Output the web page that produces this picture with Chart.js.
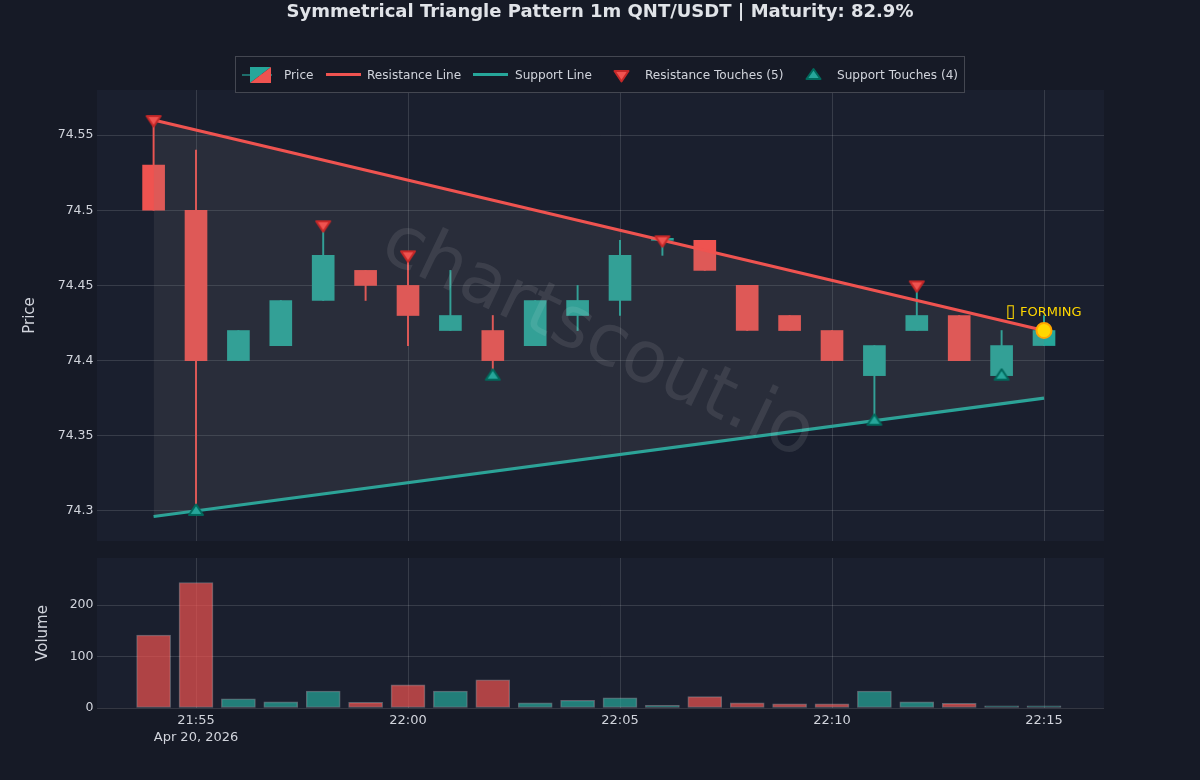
<!DOCTYPE html>
<html>
<head>
<meta charset="utf-8">
<title>Symmetrical Triangle Pattern</title>
<script src="https://cdn.jsdelivr.net/npm/chart.js@4"></script>
<style>
    html, body { margin: 0; background: #161a26; width: 1200px; height: 780px; overflow: hidden; }
    body { position: relative; font-family: 'DejaVu Sans', sans-serif; color: #d1d4dc; }
    canvas { position: absolute; left: 0; }
    #chart-price { top: 0; }
    #chart-volume { top: 540px; }
    #title { position: absolute; left: 0; width: 1200px; top: 0; text-align: center; font-size: 18px; line-height: 21px; font-weight: bold; color: #e0e3e8; }
    #legend { position: absolute; left: 235px; top: 56px; width: 728px; height: 35px; border: 1px solid rgba(255,255,255,0.2); background: #161a26; }
    #legend span { position: absolute; top: 0; line-height: 37px; font-size: 12.1px; white-space: nowrap; }
    #legend svg { position: absolute; top: 0; left: 0; }
</style>
</head>
<body>
<canvas id="chart-price"></canvas>
<canvas id="chart-volume"></canvas>
<div id="title">Symmetrical Triangle Pattern 1m QNT/USDT | Maturity: 82.9%</div>
<div id="legend">
    <svg width="728" height="35">
        <line x1="6" x2="36" y1="18" y2="18" stroke="#26a69a" stroke-width="1.2"/>
        <polygon points="14,10 35,10 14,26" fill="#26a69a"/>
        <polygon points="35,10 35,26 14,26" fill="#ef5350"/>
        <line x1="90" x2="125" y1="17.5" y2="17.5" stroke="#ef5350" stroke-width="3"/>
        <line x1="237" x2="272" y1="17.5" y2="17.5" stroke="#26a69a" stroke-width="3"/>
        <polygon points="378.5,14 392.5,14 385.5,24.5" fill="#ef5350" stroke="#c62828" stroke-width="2" stroke-linejoin="round"/>
        <polygon points="584.5,22 577.5,12 570.5,22" fill="#26a69a" stroke="#00695c" stroke-width="2" stroke-linejoin="round"/>
    </svg>
    <span style="left:48px">Price</span>
    <span style="left:131px">Resistance Line</span>
    <span style="left:279px">Support Line</span>
    <span style="left:409px">Resistance Touches (5)</span>
    <span style="left:601px">Support Touches (4)</span>
</div>
<script>
const times = ['21:54', '21:55', '21:56', '21:57', '21:58', '21:59', '22:00', '22:01', '22:02', '22:03', '22:04',
    '22:05', '22:06', '22:07', '22:08', '22:09', '22:10', '22:11', '22:12', '22:13', '22:14', '22:15']
const opens = [74.53, 74.5, 74.4, 74.41, 74.44, 74.46, 74.45, 74.42, 74.42, 74.41, 74.43,
    74.44, 74.48, 74.48, 74.45, 74.43, 74.42, 74.39, 74.42, 74.43, 74.39, 74.41]
const highs = [74.56, 74.54, 74.42, 74.44, 74.49, 74.46, 74.47, 74.46, 74.43, 74.44, 74.45,
    74.48, 74.48, 74.48, 74.45, 74.43, 74.42, 74.41, 74.45, 74.43, 74.42, 74.43]
const lows = [74.5, 74.3, 74.4, 74.41, 74.44, 74.44, 74.41, 74.42, 74.39, 74.41, 74.42,
    74.43, 74.47, 74.46, 74.42, 74.42, 74.4, 74.36, 74.42, 74.4, 74.39, 74.41]
const closes = [74.5, 74.4, 74.42, 74.44, 74.47, 74.45, 74.43, 74.43, 74.4, 74.44, 74.44,
    74.47, 74.48, 74.46, 74.42, 74.42, 74.4, 74.41, 74.43, 74.4, 74.41, 74.42]
const volumes = [142, 244, 18, 12, 33, 11, 45, 33, 55, 10, 15, 20, 5, 22, 10, 8, 8, 33, 12, 9, 4, 4]

const resistanceTimes = ['21:54', '22:15']
const resistanceValues = [74.56, 74.42]
const supportTimes = ['21:54', '22:15']
const supportValues = [74.2963, 74.375]
const resistanceTouchTimes = ['21:54', '21:58', '22:00', '22:06', '22:12']
const resistanceTouchValues = [74.56, 74.49, 74.47, 74.48, 74.45]
const supportTouchTimes = ['21:55', '22:02', '22:11', '22:14']
const supportTouchValues = [74.3, 74.39, 74.36, 74.39]
const formingTime = '22:15'
const formingValue = 74.42

const priceTicks = [74.3, 74.35, 74.4, 74.45, 74.5, 74.55]
const volumeTicks = [0, 100, 200]
const xTicks = ['21:55', '22:00', '22:05', '22:10', '22:15']
const xDateLabel = 'Apr 20, 2026'

const UP = '#26a69a'
const DOWN = '#ef5350'
const GRID = 'rgba(255,255,255,0.13)'
const TEXT = '#d1d4dc'
const FONT = "'DejaVu Sans', sans-serif"

const toMinutes = t => {
    const [h, m] = t.split(':').map(Number)
    return h * 60 + m
}
const fromMinutes = v => `${Math.floor(v / 60)}:${String(v % 60).padStart(2, '0')}`
const points = (ts, vs) => ts.map((t, i) => ({ x: toMinutes(t), y: vs[i] }))

const X_MIN = toMinutes('21:55') - 2.335
const X_MAX = toMinutes('22:15') + 1.415
const isUp = closes.map((c, i) => c >= opens[i])
const candleColors = isUp.map(u => u ? UP : DOWN)
const volumeColors = isUp.map(u => u ? 'rgba(38,166,154,0.7)' : 'rgba(239,83,80,0.7)')

// --- Touch markers: wider than the built-in triangle, centred on the centroid ---
function triangleMarker(fill, stroke, pointsDown) {
    const c = document.createElement('canvas')
    c.width = 18
    c.height = 16
    const g = c.getContext('2d')
    g.beginPath()
    if (pointsDown) {
        g.moveTo(2, 4); g.lineTo(16, 4); g.lineTo(9, 14.5)
    } else {
        g.moveTo(2, 12); g.lineTo(16, 12); g.lineTo(9, 1.5)
    }
    g.closePath()
    g.fillStyle = fill
    g.fill()
    g.lineJoin = 'round'
    g.lineWidth = 2
    g.strokeStyle = stroke
    g.stroke()
    return c
}

// --- Plot background, watermark and the FORMING label ---
const plotBackground = {
    id: 'plotBackground',
    beforeDraw(chart) {
        const { ctx, chartArea: a } = chart
        ctx.save()
        ctx.fillStyle = '#1a1f2e'
        ctx.fillRect(a.left, a.top, a.right - a.left, a.bottom - a.top)
        ctx.restore()
    }
}

const priceOverlay = {
    id: 'priceOverlay',
    afterDatasetsDraw(chart) {
        const { ctx, chartArea: a, scales } = chart
        ctx.save()
        ctx.translate((a.left + a.right) / 2 - 3, (a.top + a.bottom) / 2 + 25)
        ctx.rotate(25.5 * Math.PI / 180)
        ctx.font = `72px ${FONT}`
        ctx.textAlign = 'center'
        ctx.textBaseline = 'middle'
        ctx.fillStyle = 'rgba(255,255,255,0.09)'
        ctx.fillText('chartscout.io', 0, 0)
        ctx.restore()

        // the reference's emoji has no glyph and shows as an empty box
        const px = scales.x.getPixelForValue(toMinutes(formingTime))
        const py = scales.y.getPixelForValue(formingValue) - 18
        ctx.save()
        ctx.textBaseline = 'middle'
        ctx.fillStyle = '#ffd700'
        ctx.textAlign = 'center'
        ctx.font = `18px ${FONT}`
        ctx.fillText('▯', px - 33.5, py)
        ctx.textAlign = 'left'
        ctx.font = `13px ${FONT}`
        ctx.fillText('FORMING', px - 24, py)
        ctx.restore()
    }
}

function xAxis(showLabels) {
    return {
        type: 'linear', min: X_MIN, max: X_MAX, offset: false,
        afterBuildTicks: scale => { scale.ticks = xTicks.map(t => ({ value: toMinutes(t) })) },
        grid: { color: GRID, lineWidth: 1, offset: false, drawTicks: false },
        border: { display: false },
        ticks: {
            display: showLabels, color: TEXT, padding: 4, maxRotation: 0, autoSkip: false,
            font: { family: FONT, size: 13, lineHeight: 1.32 },
            callback: v => v === toMinutes(xTicks[0]) ? [fromMinutes(v), xDateLabel] : fromMinutes(v)
        },
        afterFit: scale => { scale.height = showLabels ? 72 : 0 }
    }
}

function yAxis(title, titleInset, ticks, min, max) {
    return {
        min, max,
        afterBuildTicks: scale => { scale.ticks = ticks.map(v => ({ value: v })) },
        afterFit: scale => { scale.width = 97 },
        grid: { color: GRID, lineWidth: 1, drawTicks: false },
        border: { display: false },
        title: { display: true, text: title, color: TEXT, font: { family: FONT, size: 15 }, padding: { top: titleInset, bottom: 0 } },
        ticks: { color: TEXT, padding: 3.5, font: { family: FONT, size: 12.5 }, callback: v => String(v) }
    }
}

function buildPriceChart() {
    const canvas = document.getElementById('chart-price')
    canvas.style.width = '1200px'
    canvas.style.height = '552px'
    canvas.width = 1200
    canvas.height = 552
    return new Chart(canvas, {
        data: {
            datasets: [
                {
                    type: 'bar', order: 10, grouped: false, barThickness: 1.3,
                    data: times.map((t, i) => ({ x: toMinutes(t), y: [lows[i], highs[i]] })),
                    backgroundColor: candleColors
                },
                {
                    type: 'bar', order: 9, grouped: false, barThickness: 22, minBarLength: 2,
                    data: times.map((t, i) => ({ x: toMinutes(t), y: [opens[i], closes[i]] })),
                    backgroundColor: candleColors, borderColor: candleColors, borderWidth: 0, borderSkipped: false
                },
                {
                    type: 'line', order: 5, data: points(resistanceTimes, resistanceValues),
                    borderColor: DOWN, borderWidth: 3.2, pointRadius: 0, tension: 0,
                    fill: { target: '+1' }, backgroundColor: 'rgba(128,128,128,0.15)'
                },
                {
                    type: 'line', order: 5, data: points(supportTimes, supportValues),
                    borderColor: UP, borderWidth: 3.2, pointRadius: 0, tension: 0, fill: false
                },
                {
                    type: 'scatter', order: 2, data: points(resistanceTouchTimes, resistanceTouchValues),
                    pointStyle: triangleMarker(DOWN, '#c62828', true)
                },
                {
                    type: 'scatter', order: 2, data: points(supportTouchTimes, supportTouchValues),
                    pointStyle: triangleMarker(UP, '#00695c', false)
                },
                {
                    type: 'scatter', order: 1, data: points([formingTime], [formingValue]),
                    pointStyle: 'circle', pointRadius: 7.5,
                    backgroundColor: '#ffd700', borderColor: '#ffa500', borderWidth: 2
                }
            ]
        },
        options: {
            responsive: false, animation: false, events: [],
            layout: { padding: { top: 90, right: 96, bottom: 0, left: 0 } },
            plugins: { legend: { display: false }, tooltip: { enabled: false } },
            scales: { x: xAxis(false), y: yAxis('Price', 21, priceTicks, 74.28, 74.58) }
        },
        plugins: [plotBackground, priceOverlay]
    })
}

function buildVolumeChart() {
    const canvas = document.getElementById('chart-volume')
    canvas.style.width = '1200px'
    canvas.style.height = '240px'
    canvas.width = 1200
    canvas.height = 240
    return new Chart(canvas, {
        data: {
            datasets: [{
                type: 'bar', barThickness: 34,
                data: times.map((t, i) => ({ x: toMinutes(t), y: volumes[i] })),
                backgroundColor: volumeColors, borderColor: 'rgba(255,255,255,0.3)', borderWidth: 1, borderSkipped: false
            }]
        },
        options: {
            responsive: false, animation: false, events: [],
            layout: { padding: { top: 18, right: 96, bottom: 0, left: 0 } },
            plugins: { legend: { display: false }, tooltip: { enabled: false } },
            scales: { x: xAxis(true), y: yAxis('Volume', 34, volumeTicks, 0, 291.7) }
        },
        plugins: [plotBackground]
    })
}

buildPriceChart()
buildVolumeChart()
</script>
</body>
</html>
